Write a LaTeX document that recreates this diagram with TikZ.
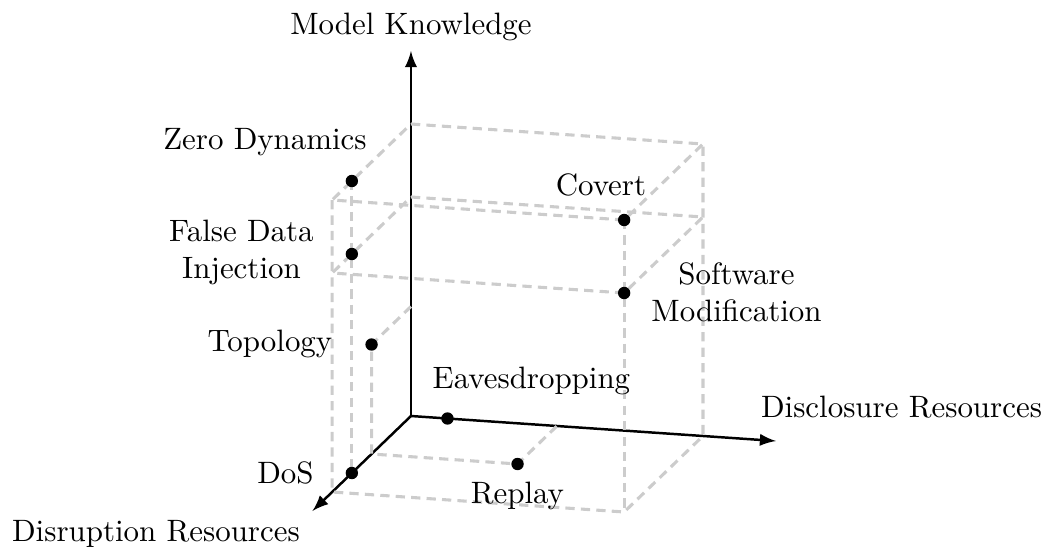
\documentclass[tikz,border=0pt]{standalone}
\usepackage{tikz}
\usepackage{xcolor}
\usepackage{amsmath,amsfonts,amssymb,amsthm}

\begin{document}
\begin{tikzpicture}[x={(0.8295cm,-0.0568cm)},y={(-0.2239cm,-0.2159cm)},z={(0cm,0.8295cm)}]
\tikzstyle{every node}+=[inner sep=0pt]
\tikzstyle{axis}=[black,thick,-latex]
\tikzstyle{guide}=[black!20,line width=1pt,dash pattern=on 3pt off 2pt]
\tikzstyle{attack}=[circle,fill=black,minimum size=4pt]
\useasboundingbox (-4.67cm,-1.523cm) rectangle (7.25cm,4.727cm);
\coordinate (O) at (0,0,0);
\coordinate (X) at (5,0,0);
\coordinate (Y) at (0,5,0);
\coordinate (Z) at (0,0,5);
\coordinate (b100) at (4,0,0);
\coordinate (b110) at (4,4,0);
\coordinate (b010) at (0,4,0);
\coordinate (m000) at (0,0,3);
\coordinate (m100) at (4,0,3);
\coordinate (m010) at (0,4,3);
\coordinate (t000) at (0,0,4);
\coordinate (t100) at (4,0,4);
\coordinate (t010) at (0,4,4);
\coordinate (p1) at (0,0,1.5);
\coordinate (p2) at (0,2,0);
\coordinate (p3) at (2,0,0);
\coordinate (ev) at (0.5,0,0);
\coordinate (dos) at (0,3,0);
\coordinate (rp) at (2,2,0);
\coordinate (top) at (0,2,1.5);
\coordinate (fdi) at (0,3,3);
\coordinate (zd) at (0,3,4);
\coordinate (cov) at (4,4,4);
\coordinate (sw) at (4,4,3);
\draw [axis] (O) -- (X);
\draw [axis] (O) -- (Y);
\draw [axis] (O) -- (Z);
\draw [guide] (t000) -- (t100) -- (cov) -- (t010) -- cycle;
\draw [guide] (m000) -- (m100) -- (sw) -- (m010) -- cycle;
\draw [guide] (t010) -- (b010) -- (b110) -- (b100) -- (t100);
\draw [guide] (zd) -- (dos);
\draw [guide] (cov) -- (b110);
\draw [guide] (p1) -- (top) -- (p2) -- (rp) -- (p3);
\node [attack] (evdot) at (ev) {};
\node [attack] (dosdot) at (dos) {};
\node [attack] (rpdot) at (rp) {};
\node [attack] (topdot) at (top) {};
\node [attack] (fdidot) at (fdi) {};
\node [attack] (zddot) at (zd) {};
\node [attack] (covdot) at (cov) {};
\node [attack] (swdot) at (sw) {};
\node (mk) at (0cm,4.417cm) {Model Knowledge};
\node (dcr) at (5.574cm,0.097cm) {Disclosure Resources};
\node (dsr) at (-2.898cm,-1.341cm) {Disruption Resources};
\node (zdl) at (-1.659cm,3.109cm) {Zero Dynamics};
\node (fdil) [align=center] at (-1.926cm,1.856cm) {False Data\\Injection};
\node (topl) at (-1.602cm,0.818cm) {Topology};
\node (dosl) at (-1.426cm,-0.645cm) {DoS};
\node (covl) at (2.159cm,2.631cm) {Covert};
\node (swl) [align=center] at (3.699cm,1.411cm) {Software\\Modification};
\node (evl) at (1.369cm,0.402cm) {Eavesdropping};
\node (rpl) at (1.210cm,-0.905cm) {Replay};
\end{tikzpicture}
\end{document}
